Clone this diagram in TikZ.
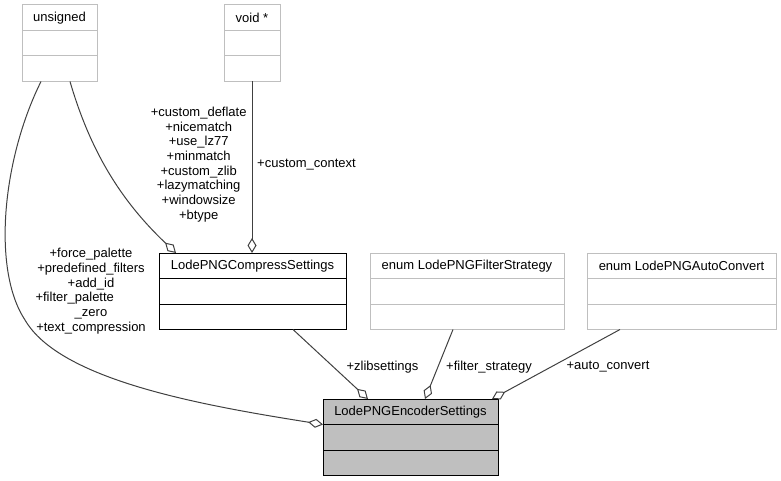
\documentclass[tikz,border=0pt]{standalone}
\usepackage{fontspec}
\setmainfont{Liberation Sans}
\usepackage{tikz}
\usetikzlibrary{
    arrows.meta,
    positioning
}

\definecolor{boxgray}{HTML}{BFBFBF}
\definecolor{edgegray}{HTML}{404040}

\begin{document}
\begin{tikzpicture}[
    x=1pt, y=-1pt,
    font=\fontsize{13}{14.7}\selectfont,
    cls/.style={
        draw=boxgray,
        line width=1pt,
        minimum height=25.5pt,
        inner sep=0pt,
        outer sep=0pt
    },
    clsdoc/.style={
        cls,
        draw=black
    },
    clsmain/.style={
        cls,
        draw=black,
        fill=boxgray
    },
    member/.style={
        -{Diamond[open, length=15pt, width=9pt]},
        draw=edgegray,
        line width=1pt
    },
    tag/.style={
        align=center,
        inner sep=0pt
    }
]
\useasboundingbox (0,0) rectangle (781,481);

% classes
\node[cls, minimum width=75pt, anchor=north] (unsigned) at (59.5,5) {unsigned};
\node[cls, minimum width=75pt, below=0pt of unsigned] (unsigned-attr) {};
\node[cls, minimum width=75pt, below=0pt of unsigned-attr] (unsigned-op) {};

\node[cls, minimum width=56pt, anchor=north] (void) at (252,5) {void *};
\node[cls, minimum width=56pt, below=0pt of void] (void-attr) {};
\node[cls, minimum width=56pt, below=0pt of void-attr] (void-op) {};

\node[clsdoc, minimum width=187pt, anchor=north] (compress) at (252.5,253)
    {LodePNGCompressSettings};
\node[clsdoc, minimum width=187pt, below=0pt of compress] (compress-attr) {};
\node[clsdoc, minimum width=187pt, below=0pt of compress-attr] (compress-op) {};

\node[cls, minimum width=194pt, anchor=north] (filter) at (467,253)
    {enum LodePNGFilterStrategy};
\node[cls, minimum width=194pt, below=0pt of filter] (filter-attr) {};
\node[cls, minimum width=194pt, below=0pt of filter-attr] (filter-op) {};

\node[cls, minimum width=189pt, anchor=north] (autoconv) at (681.5,253)
    {enum LodePNGAutoConvert};
\node[cls, minimum width=189pt, below=0pt of autoconv] (autoconv-attr) {};
\node[cls, minimum width=189pt, below=0pt of autoconv-attr] (autoconv-op) {};

\node[clsmain, minimum width=175pt, anchor=north] (encoder) at (410.5,399)
    {LodePNGEncoderSettings};
\node[clsmain, minimum width=175pt, below=0pt of encoder] (encoder-attr) {};
\node[clsmain, minimum width=175pt, below=0pt of encoder-attr] (encoder-op) {};

% members
\draw[member] ([xshift=-18.5pt]unsigned-op.south)
    .. controls (2,160) and (-8,270) .. (25,320)
    .. controls (60,380) and (200,405) .. (encoder-attr.north west);
\draw[member] ([xshift=10.5pt]unsigned-op.south)
    .. controls (90,150) and (120,200) .. ([xshift=-76.5pt]compress.north);
\draw[member] (void-op.south) -- (void-op.south |- compress.north);
\draw[member] ([xshift=40.5pt]compress-op.south) -- ([xshift=-42.5pt]encoder.north);
\draw[member] ([xshift=-14pt]filter-op.south) -- ([xshift=14.5pt]encoder.north);
\draw[member] ([xshift=-61.5pt]autoconv-op.south) -- ([xshift=81.5pt]encoder.north);

% labels
\node[tag] (lbl-encoder) at (91,291)
    {+force\_palette\\+predefined\_filters\\+add\_id\\
     +filter\_palette\phantom{\_zero}\\\_zero\\+text\_compression};
\node[tag] (lbl-compress) at (198.7,164.5)
    {+custom\_deflate\\+nicematch\\+use\_lz77\\+minmatch\\
     +custom\_zlib\\+lazymatching\\+windowsize\\+btype};
\node[tag, anchor=west] (lbl-context) at (257,165) {+custom\_context};
\node[tag] (lbl-zlib) at (382.5,367) {+zlibsettings};
\node[tag] (lbl-filter) at (489,367) {+filter\_strategy};
\node[tag] (lbl-auto) at (608,367) {+auto\_convert};

\end{tikzpicture}
\end{document}
